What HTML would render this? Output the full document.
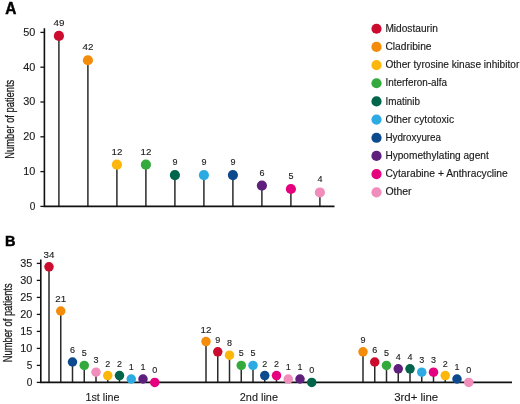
<!DOCTYPE html><html><head><meta charset="utf-8"><style>html,body{margin:0;padding:0;background:#fff}svg{display:block;will-change:transform}text{font-family:"Liberation Sans",sans-serif;fill:#1a1a1a}</style></head><body>
<svg width="520" height="404" viewBox="0 0 520 404">
<rect width="520" height="404" fill="#fff"/>
<text transform="translate(5.3,13.75) scale(0.98,1)" font-size="15.7" font-weight="bold" style="fill:#000" stroke="#000" stroke-width="0.45">A</text>
<text transform="translate(5.0,246.4) scale(0.98,1)" font-size="14.8" font-weight="bold" style="fill:#000" stroke="#000" stroke-width="0.45">B</text>
<line x1="58.90" y1="206.4" x2="58.90" y2="35.88" stroke="#2a2a2a" stroke-width="1.5"/>
<line x1="87.90" y1="206.4" x2="87.90" y2="60.24" stroke="#2a2a2a" stroke-width="1.5"/>
<line x1="116.90" y1="206.4" x2="116.90" y2="164.64" stroke="#2a2a2a" stroke-width="1.5"/>
<line x1="145.90" y1="206.4" x2="145.90" y2="164.64" stroke="#2a2a2a" stroke-width="1.5"/>
<line x1="174.90" y1="206.4" x2="174.90" y2="175.08" stroke="#2a2a2a" stroke-width="1.5"/>
<line x1="203.90" y1="206.4" x2="203.90" y2="175.08" stroke="#2a2a2a" stroke-width="1.5"/>
<line x1="232.90" y1="206.4" x2="232.90" y2="175.08" stroke="#2a2a2a" stroke-width="1.5"/>
<line x1="261.90" y1="206.4" x2="261.90" y2="185.52" stroke="#2a2a2a" stroke-width="1.5"/>
<line x1="290.90" y1="206.4" x2="290.90" y2="189.00" stroke="#2a2a2a" stroke-width="1.5"/>
<line x1="319.90" y1="206.4" x2="319.90" y2="192.48" stroke="#2a2a2a" stroke-width="1.5"/>
<path d="M44.4 28.3V206.4H334.5" fill="none" stroke="#111" stroke-width="1.6"/>
<line x1="40.4" y1="206.40" x2="44.4" y2="206.40" stroke="#111" stroke-width="1.3"/>
<text x="29.70" y="209.80" font-size="10.6" textLength="5.6" lengthAdjust="spacingAndGlyphs" stroke="#1a1a1a" stroke-width="0.12">0</text>
<line x1="40.4" y1="171.60" x2="44.4" y2="171.60" stroke="#111" stroke-width="1.3"/>
<text x="23.20" y="175.00" font-size="10.6" textLength="12.1" lengthAdjust="spacingAndGlyphs" stroke="#1a1a1a" stroke-width="0.12">10</text>
<line x1="40.4" y1="136.80" x2="44.4" y2="136.80" stroke="#111" stroke-width="1.3"/>
<text x="23.20" y="140.20" font-size="10.6" textLength="12.1" lengthAdjust="spacingAndGlyphs" stroke="#1a1a1a" stroke-width="0.12">20</text>
<line x1="40.4" y1="102.00" x2="44.4" y2="102.00" stroke="#111" stroke-width="1.3"/>
<text x="23.20" y="105.40" font-size="10.6" textLength="12.1" lengthAdjust="spacingAndGlyphs" stroke="#1a1a1a" stroke-width="0.12">30</text>
<line x1="40.4" y1="67.20" x2="44.4" y2="67.20" stroke="#111" stroke-width="1.3"/>
<text x="23.20" y="70.60" font-size="10.6" textLength="12.1" lengthAdjust="spacingAndGlyphs" stroke="#1a1a1a" stroke-width="0.12">40</text>
<line x1="40.4" y1="32.40" x2="44.4" y2="32.40" stroke="#111" stroke-width="1.3"/>
<text x="23.20" y="35.80" font-size="10.6" textLength="12.1" lengthAdjust="spacingAndGlyphs" stroke="#1a1a1a" stroke-width="0.12">50</text>
<circle cx="58.90" cy="35.88" r="5.1" fill="#CB0C2E"/>
<text x="53.45" y="25.88" font-size="9" textLength="10.9" lengthAdjust="spacingAndGlyphs" stroke="#1a1a1a" stroke-width="0.12">49</text>
<circle cx="87.90" cy="60.24" r="5.1" fill="#F48C0A"/>
<text x="82.45" y="50.24" font-size="9" textLength="10.9" lengthAdjust="spacingAndGlyphs" stroke="#1a1a1a" stroke-width="0.12">42</text>
<circle cx="116.90" cy="164.64" r="5.1" fill="#FDB70A"/>
<text x="111.45" y="154.64" font-size="9" textLength="10.9" lengthAdjust="spacingAndGlyphs" stroke="#1a1a1a" stroke-width="0.12">12</text>
<circle cx="145.90" cy="164.64" r="5.1" fill="#34AA3C"/>
<text x="140.45" y="154.64" font-size="9" textLength="10.9" lengthAdjust="spacingAndGlyphs" stroke="#1a1a1a" stroke-width="0.12">12</text>
<circle cx="174.90" cy="175.08" r="5.1" fill="#00654B"/>
<text x="174.90" y="165.08" font-size="9" text-anchor="middle" stroke="#1a1a1a" stroke-width="0.12">9</text>
<circle cx="203.90" cy="175.08" r="5.1" fill="#2CABE2"/>
<text x="203.90" y="165.08" font-size="9" text-anchor="middle" stroke="#1a1a1a" stroke-width="0.12">9</text>
<circle cx="232.90" cy="175.08" r="5.1" fill="#0B4A8C"/>
<text x="232.90" y="165.08" font-size="9" text-anchor="middle" stroke="#1a1a1a" stroke-width="0.12">9</text>
<circle cx="261.90" cy="185.52" r="5.1" fill="#5E1F7D"/>
<text x="261.90" y="175.52" font-size="9" text-anchor="middle" stroke="#1a1a1a" stroke-width="0.12">6</text>
<circle cx="290.90" cy="189.00" r="5.1" fill="#E5007E"/>
<text x="290.90" y="179.00" font-size="9" text-anchor="middle" stroke="#1a1a1a" stroke-width="0.12">5</text>
<circle cx="319.90" cy="192.48" r="5.1" fill="#F08DBB"/>
<text x="319.90" y="182.48" font-size="9" text-anchor="middle" stroke="#1a1a1a" stroke-width="0.12">4</text>
<text transform="translate(14.3,158.7) rotate(-90)" font-size="12.3" textLength="79.0" lengthAdjust="spacingAndGlyphs" stroke="#1a1a1a" stroke-width="0.3">Number of patients</text>
<circle cx="376.5" cy="28.75" r="5.1" fill="#CB0C2E"/>
<text x="385.4" y="31.95" font-size="10.2" textLength="52.4" lengthAdjust="spacingAndGlyphs" stroke="#1a1a1a" stroke-width="0.15">Midostaurin</text>
<circle cx="376.5" cy="46.92" r="5.1" fill="#F48C0A"/>
<text x="385.4" y="50.12" font-size="10.2" textLength="46.15" lengthAdjust="spacingAndGlyphs" stroke="#1a1a1a" stroke-width="0.15">Cladribine</text>
<circle cx="376.5" cy="65.09" r="5.1" fill="#FDB70A"/>
<text x="385.4" y="68.29" font-size="10.2" textLength="133.9" lengthAdjust="spacingAndGlyphs" stroke="#1a1a1a" stroke-width="0.15">Other tyrosine kinase inhibitor</text>
<circle cx="376.5" cy="83.26" r="5.1" fill="#34AA3C"/>
<text x="385.4" y="86.46" font-size="10.2" textLength="61.65" lengthAdjust="spacingAndGlyphs" stroke="#1a1a1a" stroke-width="0.15">Interferon-alfa</text>
<circle cx="376.5" cy="101.43" r="5.1" fill="#00654B"/>
<text x="385.4" y="104.63" font-size="10.2" textLength="34.65" lengthAdjust="spacingAndGlyphs" stroke="#1a1a1a" stroke-width="0.15">Imatinib</text>
<circle cx="376.5" cy="119.60" r="5.1" fill="#2CABE2"/>
<text x="385.4" y="122.80" font-size="10.2" textLength="68.65" lengthAdjust="spacingAndGlyphs" stroke="#1a1a1a" stroke-width="0.15">Other cytotoxic</text>
<circle cx="376.5" cy="137.77" r="5.1" fill="#0B4A8C"/>
<text x="385.4" y="140.97" font-size="10.2" textLength="55.65" lengthAdjust="spacingAndGlyphs" stroke="#1a1a1a" stroke-width="0.15">Hydroxyurea</text>
<circle cx="376.5" cy="155.94" r="5.1" fill="#5E1F7D"/>
<text x="385.4" y="159.14" font-size="10.2" textLength="103.4" lengthAdjust="spacingAndGlyphs" stroke="#1a1a1a" stroke-width="0.15">Hypomethylating agent</text>
<circle cx="376.5" cy="174.11" r="5.1" fill="#E5007E"/>
<text x="385.4" y="177.31" font-size="10.2" textLength="122.4" lengthAdjust="spacingAndGlyphs" stroke="#1a1a1a" stroke-width="0.15">Cytarabine + Anthracycline</text>
<circle cx="376.5" cy="192.28" r="5.1" fill="#F08DBB"/>
<text x="385.4" y="195.48" font-size="10.2" textLength="26.15" lengthAdjust="spacingAndGlyphs" stroke="#1a1a1a" stroke-width="0.15">Other</text>
<line x1="49.00" y1="382.4" x2="49.00" y2="266.80" stroke="#2a2a2a" stroke-width="1.5"/>
<line x1="60.75" y1="382.4" x2="60.75" y2="311.00" stroke="#2a2a2a" stroke-width="1.5"/>
<line x1="72.50" y1="382.4" x2="72.50" y2="362.00" stroke="#2a2a2a" stroke-width="1.5"/>
<line x1="84.25" y1="382.4" x2="84.25" y2="365.40" stroke="#2a2a2a" stroke-width="1.5"/>
<line x1="96.00" y1="382.4" x2="96.00" y2="372.20" stroke="#2a2a2a" stroke-width="1.5"/>
<line x1="107.75" y1="382.4" x2="107.75" y2="375.60" stroke="#2a2a2a" stroke-width="1.5"/>
<line x1="119.50" y1="382.4" x2="119.50" y2="375.60" stroke="#2a2a2a" stroke-width="1.5"/>
<line x1="131.25" y1="382.4" x2="131.25" y2="379.00" stroke="#2a2a2a" stroke-width="1.5"/>
<line x1="143.00" y1="382.4" x2="143.00" y2="379.00" stroke="#2a2a2a" stroke-width="1.5"/>
<line x1="206.00" y1="382.4" x2="206.00" y2="341.60" stroke="#2a2a2a" stroke-width="1.5"/>
<line x1="217.75" y1="382.4" x2="217.75" y2="351.80" stroke="#2a2a2a" stroke-width="1.5"/>
<line x1="229.50" y1="382.4" x2="229.50" y2="355.20" stroke="#2a2a2a" stroke-width="1.5"/>
<line x1="241.25" y1="382.4" x2="241.25" y2="365.40" stroke="#2a2a2a" stroke-width="1.5"/>
<line x1="253.00" y1="382.4" x2="253.00" y2="365.40" stroke="#2a2a2a" stroke-width="1.5"/>
<line x1="264.75" y1="382.4" x2="264.75" y2="375.60" stroke="#2a2a2a" stroke-width="1.5"/>
<line x1="276.50" y1="382.4" x2="276.50" y2="375.60" stroke="#2a2a2a" stroke-width="1.5"/>
<line x1="288.25" y1="382.4" x2="288.25" y2="379.00" stroke="#2a2a2a" stroke-width="1.5"/>
<line x1="300.00" y1="382.4" x2="300.00" y2="379.00" stroke="#2a2a2a" stroke-width="1.5"/>
<line x1="363.00" y1="382.4" x2="363.00" y2="351.80" stroke="#2a2a2a" stroke-width="1.5"/>
<line x1="374.75" y1="382.4" x2="374.75" y2="362.00" stroke="#2a2a2a" stroke-width="1.5"/>
<line x1="386.50" y1="382.4" x2="386.50" y2="365.40" stroke="#2a2a2a" stroke-width="1.5"/>
<line x1="398.25" y1="382.4" x2="398.25" y2="368.80" stroke="#2a2a2a" stroke-width="1.5"/>
<line x1="410.00" y1="382.4" x2="410.00" y2="368.80" stroke="#2a2a2a" stroke-width="1.5"/>
<line x1="421.75" y1="382.4" x2="421.75" y2="372.20" stroke="#2a2a2a" stroke-width="1.5"/>
<line x1="433.50" y1="382.4" x2="433.50" y2="372.20" stroke="#2a2a2a" stroke-width="1.5"/>
<line x1="445.25" y1="382.4" x2="445.25" y2="375.60" stroke="#2a2a2a" stroke-width="1.5"/>
<line x1="457.00" y1="382.4" x2="457.00" y2="379.00" stroke="#2a2a2a" stroke-width="1.5"/>
<path d="M40.8 259.5V382.4H512" fill="none" stroke="#111" stroke-width="1.6"/>
<line x1="36.8" y1="382.40" x2="40.8" y2="382.40" stroke="#111" stroke-width="1.3"/>
<text x="26.80" y="385.80" font-size="10.6" textLength="5.6" lengthAdjust="spacingAndGlyphs" stroke="#1a1a1a" stroke-width="0.12">0</text>
<line x1="36.8" y1="365.40" x2="40.8" y2="365.40" stroke="#111" stroke-width="1.3"/>
<text x="26.80" y="368.80" font-size="10.6" textLength="5.6" lengthAdjust="spacingAndGlyphs" stroke="#1a1a1a" stroke-width="0.12">5</text>
<line x1="36.8" y1="348.40" x2="40.8" y2="348.40" stroke="#111" stroke-width="1.3"/>
<text x="20.30" y="351.80" font-size="10.6" textLength="12.1" lengthAdjust="spacingAndGlyphs" stroke="#1a1a1a" stroke-width="0.12">10</text>
<line x1="36.8" y1="331.40" x2="40.8" y2="331.40" stroke="#111" stroke-width="1.3"/>
<text x="20.30" y="334.80" font-size="10.6" textLength="12.1" lengthAdjust="spacingAndGlyphs" stroke="#1a1a1a" stroke-width="0.12">15</text>
<line x1="36.8" y1="314.40" x2="40.8" y2="314.40" stroke="#111" stroke-width="1.3"/>
<text x="20.30" y="317.80" font-size="10.6" textLength="12.1" lengthAdjust="spacingAndGlyphs" stroke="#1a1a1a" stroke-width="0.12">20</text>
<line x1="36.8" y1="297.40" x2="40.8" y2="297.40" stroke="#111" stroke-width="1.3"/>
<text x="20.30" y="300.80" font-size="10.6" textLength="12.1" lengthAdjust="spacingAndGlyphs" stroke="#1a1a1a" stroke-width="0.12">25</text>
<line x1="36.8" y1="280.40" x2="40.8" y2="280.40" stroke="#111" stroke-width="1.3"/>
<text x="20.30" y="283.80" font-size="10.6" textLength="12.1" lengthAdjust="spacingAndGlyphs" stroke="#1a1a1a" stroke-width="0.12">30</text>
<line x1="36.8" y1="263.40" x2="40.8" y2="263.40" stroke="#111" stroke-width="1.3"/>
<text x="20.30" y="266.80" font-size="10.6" textLength="12.1" lengthAdjust="spacingAndGlyphs" stroke="#1a1a1a" stroke-width="0.12">35</text>
<circle cx="49.00" cy="266.80" r="4.75" fill="#CB0C2E"/>
<text x="43.55" y="257.80" font-size="9" textLength="10.9" lengthAdjust="spacingAndGlyphs" stroke="#1a1a1a" stroke-width="0.12">34</text>
<circle cx="60.75" cy="311.00" r="4.75" fill="#F48C0A"/>
<text x="55.30" y="302.00" font-size="9" textLength="10.9" lengthAdjust="spacingAndGlyphs" stroke="#1a1a1a" stroke-width="0.12">21</text>
<circle cx="72.50" cy="362.00" r="4.75" fill="#0B4A8C"/>
<text x="72.50" y="353.00" font-size="9" text-anchor="middle" stroke="#1a1a1a" stroke-width="0.12">6</text>
<circle cx="84.25" cy="365.40" r="4.75" fill="#34AA3C"/>
<text x="84.25" y="356.40" font-size="9" text-anchor="middle" stroke="#1a1a1a" stroke-width="0.12">5</text>
<circle cx="96.00" cy="372.20" r="4.75" fill="#F08DBB"/>
<text x="96.00" y="363.20" font-size="9" text-anchor="middle" stroke="#1a1a1a" stroke-width="0.12">3</text>
<circle cx="107.75" cy="375.60" r="4.75" fill="#FDB70A"/>
<text x="107.75" y="366.60" font-size="9" text-anchor="middle" stroke="#1a1a1a" stroke-width="0.12">2</text>
<circle cx="119.50" cy="375.60" r="4.75" fill="#00654B"/>
<text x="119.50" y="366.60" font-size="9" text-anchor="middle" stroke="#1a1a1a" stroke-width="0.12">2</text>
<circle cx="131.25" cy="379.00" r="4.75" fill="#2CABE2"/>
<text x="131.25" y="370.00" font-size="9" text-anchor="middle" stroke="#1a1a1a" stroke-width="0.12">1</text>
<circle cx="143.00" cy="379.00" r="4.75" fill="#5E1F7D"/>
<text x="143.00" y="370.00" font-size="9" text-anchor="middle" stroke="#1a1a1a" stroke-width="0.12">1</text>
<circle cx="154.75" cy="382.40" r="4.75" fill="#E5007E"/>
<text x="154.75" y="373.40" font-size="9" text-anchor="middle" stroke="#1a1a1a" stroke-width="0.12">0</text>
<text x="85.5" y="400.6" font-size="10.7" textLength="34.0" lengthAdjust="spacingAndGlyphs" stroke="#1a1a1a" stroke-width="0.1">1st line</text>
<circle cx="206.00" cy="341.60" r="4.75" fill="#F48C0A"/>
<text x="200.55" y="332.60" font-size="9" textLength="10.9" lengthAdjust="spacingAndGlyphs" stroke="#1a1a1a" stroke-width="0.12">12</text>
<circle cx="217.75" cy="351.80" r="4.75" fill="#CB0C2E"/>
<text x="217.75" y="342.80" font-size="9" text-anchor="middle" stroke="#1a1a1a" stroke-width="0.12">9</text>
<circle cx="229.50" cy="355.20" r="4.75" fill="#FDB70A"/>
<text x="229.50" y="346.20" font-size="9" text-anchor="middle" stroke="#1a1a1a" stroke-width="0.12">8</text>
<circle cx="241.25" cy="365.40" r="4.75" fill="#34AA3C"/>
<text x="241.25" y="356.40" font-size="9" text-anchor="middle" stroke="#1a1a1a" stroke-width="0.12">5</text>
<circle cx="253.00" cy="365.40" r="4.75" fill="#2CABE2"/>
<text x="253.00" y="356.40" font-size="9" text-anchor="middle" stroke="#1a1a1a" stroke-width="0.12">5</text>
<circle cx="264.75" cy="375.60" r="4.75" fill="#0B4A8C"/>
<text x="264.75" y="366.60" font-size="9" text-anchor="middle" stroke="#1a1a1a" stroke-width="0.12">2</text>
<circle cx="276.50" cy="375.60" r="4.75" fill="#E5007E"/>
<text x="276.50" y="366.60" font-size="9" text-anchor="middle" stroke="#1a1a1a" stroke-width="0.12">2</text>
<circle cx="288.25" cy="379.00" r="4.75" fill="#F08DBB"/>
<text x="288.25" y="370.00" font-size="9" text-anchor="middle" stroke="#1a1a1a" stroke-width="0.12">1</text>
<circle cx="300.00" cy="379.00" r="4.75" fill="#5E1F7D"/>
<text x="300.00" y="370.00" font-size="9" text-anchor="middle" stroke="#1a1a1a" stroke-width="0.12">1</text>
<circle cx="311.75" cy="382.40" r="4.75" fill="#00654B"/>
<text x="311.75" y="373.40" font-size="9" text-anchor="middle" stroke="#1a1a1a" stroke-width="0.12">0</text>
<text x="239.8" y="400.6" font-size="10.7" textLength="38.2" lengthAdjust="spacingAndGlyphs" stroke="#1a1a1a" stroke-width="0.1">2nd line</text>
<circle cx="363.00" cy="351.80" r="4.75" fill="#F48C0A"/>
<text x="363.00" y="342.80" font-size="9" text-anchor="middle" stroke="#1a1a1a" stroke-width="0.12">9</text>
<circle cx="374.75" cy="362.00" r="4.75" fill="#CB0C2E"/>
<text x="374.75" y="353.00" font-size="9" text-anchor="middle" stroke="#1a1a1a" stroke-width="0.12">6</text>
<circle cx="386.50" cy="365.40" r="4.75" fill="#34AA3C"/>
<text x="386.50" y="356.40" font-size="9" text-anchor="middle" stroke="#1a1a1a" stroke-width="0.12">5</text>
<circle cx="398.25" cy="368.80" r="4.75" fill="#5E1F7D"/>
<text x="398.25" y="359.80" font-size="9" text-anchor="middle" stroke="#1a1a1a" stroke-width="0.12">4</text>
<circle cx="410.00" cy="368.80" r="4.75" fill="#00654B"/>
<text x="410.00" y="359.80" font-size="9" text-anchor="middle" stroke="#1a1a1a" stroke-width="0.12">4</text>
<circle cx="421.75" cy="372.20" r="4.75" fill="#2CABE2"/>
<text x="421.75" y="363.20" font-size="9" text-anchor="middle" stroke="#1a1a1a" stroke-width="0.12">3</text>
<circle cx="433.50" cy="372.20" r="4.75" fill="#E5007E"/>
<text x="433.50" y="363.20" font-size="9" text-anchor="middle" stroke="#1a1a1a" stroke-width="0.12">3</text>
<circle cx="445.25" cy="375.60" r="4.75" fill="#FDB70A"/>
<text x="445.25" y="366.60" font-size="9" text-anchor="middle" stroke="#1a1a1a" stroke-width="0.12">2</text>
<circle cx="457.00" cy="379.00" r="4.75" fill="#0B4A8C"/>
<text x="457.00" y="370.00" font-size="9" text-anchor="middle" stroke="#1a1a1a" stroke-width="0.12">1</text>
<circle cx="468.75" cy="382.40" r="4.75" fill="#F08DBB"/>
<text x="468.75" y="373.40" font-size="9" text-anchor="middle" stroke="#1a1a1a" stroke-width="0.12">0</text>
<text x="394.2" y="400.6" font-size="10.7" textLength="44.0" lengthAdjust="spacingAndGlyphs" stroke="#1a1a1a" stroke-width="0.1">3rd+ line</text>
<text transform="translate(11.5,362.2) rotate(-90)" font-size="12.3" textLength="78.8" lengthAdjust="spacingAndGlyphs" stroke="#1a1a1a" stroke-width="0.3">Number of patients</text>
</svg></body></html>
